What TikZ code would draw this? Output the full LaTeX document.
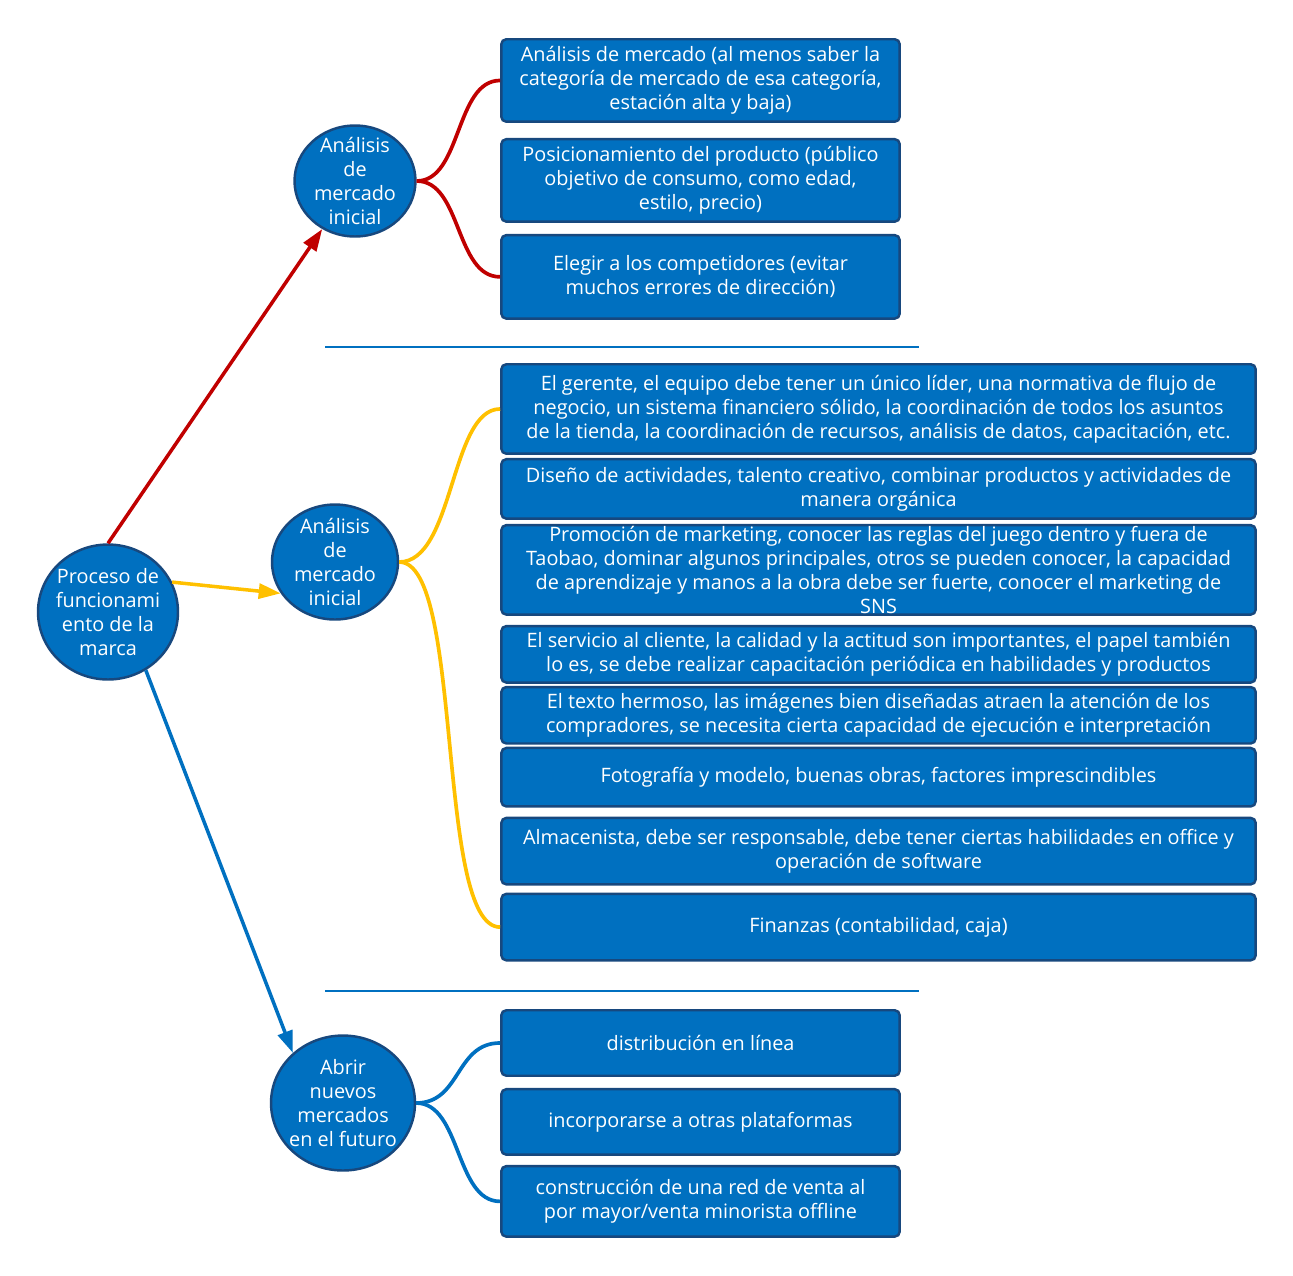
\documentclass[tikz,border=0pt]{standalone}
\usepackage{fontspec}
\setmainfont{Open Sans}
\usepackage{tikz}
\usetikzlibrary{positioning,shapes.geometric,arrows.meta}
\definecolor{boxblue}{HTML}{0070C0}
\definecolor{edgeblue}{HTML}{17487E}
\definecolor{rojo}{HTML}{C00000}
\definecolor{amarillo}{HTML}{FFC000}

\begin{document}
\begin{tikzpicture}[x=0.02cm, y=-0.02cm,
  every node/.style={font=\fontsize{11.3}{13.66}\selectfont, text=white},
  tema/.style={ellipse, draw=edgeblue, fill=boxblue, line width=1.4pt, inner sep=-0.2cm, align=center},
  item/.style={rectangle, draw=edgeblue, fill=boxblue, rounded corners=0.1cm, line width=1.4pt, inner xsep=0.1cm, inner ysep=0pt, align=center},
  rama/.style={line width=2.1pt},
  flecha/.style={line width=2pt, -{Triangle[length=0.44cm,width=0.3cm]}}]
  \useasboundingbox (0,0) rectangle (1293,1275);
  % temas
  \node[tema, minimum width=2.8cm, minimum height=2.7cm] (proceso) at (108,612) {Proceso de\\funcionami\\ento de la\\marca};
  \node[tema, minimum width=2.42cm, minimum height=2.22cm] (inicialA) at (355,181) {Análisis\\de\\mercado\\inicial};
  \node[tema, minimum width=2.52cm, minimum height=2.3cm] (inicialB) at (335,562) {Análisis\\de\\mercado\\inicial};
  \node[tema, minimum width=2.88cm, minimum height=2.7cm] (futuro) at (343,1103) {Abrir\\nuevos\\mercados\\en el futuro};
  % primer grupo
  \node[item, minimum width=7.97cm, minimum height=1.65cm, anchor=north] (mercado) at (700.5,38) {Análisis de mercado (al menos saber la\\categoría de mercado de esa categoría,\\estación alta y baja)};
  \node[item, minimum width=7.97cm, minimum height=1.65cm, below=0.3cm of mercado] (producto) {Posicionamiento del producto (público\\objetivo de consumo, como edad,\\estilo, precio)};
  \node[item, minimum width=7.97cm, minimum height=1.67cm, below=0.22cm of producto] (rivales) {Elegir a los competidores (evitar\\muchos errores de dirección)};
  % segundo grupo
  \node[item, minimum width=15.09cm, minimum height=1.79cm, anchor=north] (gerente) at (878.5,363) {El gerente, el equipo debe tener un único líder, una normativa de flujo de\\negocio, un sistema financiero sólido, la coordinación de todos los asuntos\\de la tienda, la coordinación de recursos, análisis de datos, capacitación, etc.};
  \node[item, minimum width=15.09cm, minimum height=1.19cm, below=0.06cm of gerente] (diseno) {Diseño de actividades, talento creativo, combinar productos y actividades de\\manera orgánica};
  \node[item, minimum width=15.09cm, minimum height=1.79cm, inner ysep=-4pt, below=0.08cm of diseno] (promocion) {Promoción de marketing, conocer las reglas del juego dentro y fuera de\\Taobao, dominar algunos principales, otros se pueden conocer, la capacidad\\de aprendizaje y manos a la obra debe ser fuerte, conocer el marketing de\\SNS};
  \node[item, minimum width=15.09cm, minimum height=1.13cm, below=0.18cm of promocion] (servicio) {El servicio al cliente, la calidad y la actitud son importantes, el papel también\\lo es, se debe realizar capacitación periódica en habilidades y productos};
  \node[item, minimum width=15.09cm, minimum height=1.13cm, below=0.04cm of servicio] (texto) {El texto hermoso, las imágenes bien diseñadas atraen la atención de los\\compradores, se necesita cierta capacidad de ejecución e interpretación};
  \node[item, minimum width=15.09cm, minimum height=1.17cm, below=0.04cm of texto] (foto) {Fotografía y modelo, buenas obras, factores imprescindibles};
  \node[item, minimum width=15.09cm, minimum height=1.33cm, below=0.18cm of foto] (almacen) {Almacenista, debe ser responsable, debe tener ciertas habilidades en office y\\operación de software};
  \node[item, minimum width=15.09cm, minimum height=1.33cm, below=0.14cm of almacen] (finanzas) {Finanzas (contabilidad, caja)};
  % tercer grupo
  \node[item, minimum width=7.97cm, minimum height=1.31cm, anchor=north] (linea) at (700.5,1009) {distribución en línea};
  \node[item, minimum width=7.97cm, minimum height=1.31cm, below=0.22cm of linea] (plataformas) {incorporarse a otras plataformas};
  \node[item, minimum width=7.97cm, minimum height=1.41cm, below=0.18cm of plataformas] (offline) {construcción de una red de venta al\\por mayor/venta minorista offline};
  % separadores
  \draw[boxblue, line width=1.2pt] (325,347) -- (919,347);
  \draw[boxblue, line width=1.2pt] (325,991) -- (919,991);
  % flechas
  \draw[flecha, rojo] (proceso.north) -- (inicialA);
  \draw[flecha, amarillo] (proceso.25) -- (inicialB.210);
  \draw[flecha, boxblue] (proceso.303) -- (futuro.135);
  % ramas
  \draw[rama, rojo] (inicialA.east) .. controls +(45,0) and +(-45,0) .. (mercado.west);
  \draw[rama, rojo] (inicialA.east) .. controls +(45,0) and +(-45,0) .. (rivales.west);
  \draw[rama, amarillo] (inicialB.east) .. controls +(55,0) and +(-50,0) .. (gerente.west);
  \draw[rama, amarillo] (inicialB.east) .. controls +(65,0) and +(-65,0) .. (finanzas.west);
  \draw[rama, boxblue] (futuro.east) .. controls +(45,0) and +(-45,0) .. (linea.west);
  \draw[rama, boxblue] (futuro.east) .. controls +(45,0) and +(-45,0) .. (offline.west);
\end{tikzpicture}
\end{document}
